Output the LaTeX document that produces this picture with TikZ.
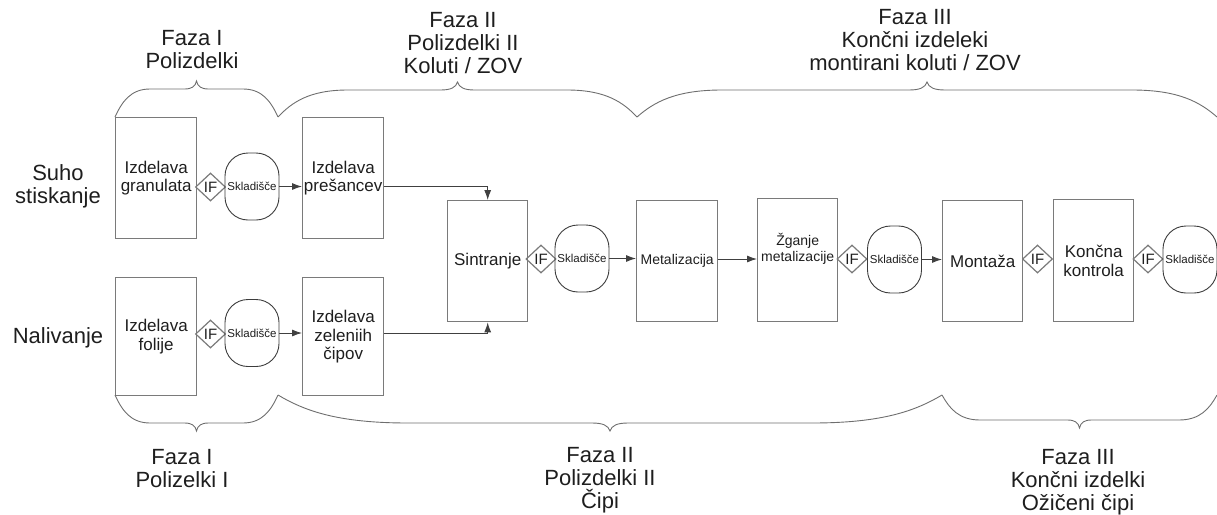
\documentclass[tikz,border=0pt]{standalone}
\usepackage{fontspec}
\setmainfont{Liberation Sans}
\usetikzlibrary{arrows.meta,shapes.geometric}

\definecolor{ink}{HTML}{1E1E1E}
\definecolor{boxline}{HTML}{7A7A7A}
\definecolor{storeline}{HTML}{3C3C3C}
\definecolor{flowline}{HTML}{404040}
\definecolor{braceline}{HTML}{6E6E6E}

\tikzset{
  stepbox/.style={draw=boxline, line width=1.4pt, minimum width=81pt,
    minimum height=121pt, inner sep=0pt, anchor=north west, align=center,
    font=\fontsize{17}{18.5}\selectfont, text=ink},
  smallstep/.style={stepbox, font=\fontsize{14}{15.5}\selectfont},
  ifnode/.style={diamond, draw=boxline, line width=1.2pt, minimum width=30pt,
    minimum height=28pt, inner sep=0pt, font=\fontsize{15}{15}\selectfont, text=ink},
  store/.style={draw=storeline, line width=0.9pt, rounded corners=23pt,
    minimum width=54pt, minimum height=67pt, inner sep=0pt,
    font=\fontsize{11.5}{12}\selectfont, text=ink},
  flow/.style={draw=flowline, line width=0.9pt, -{Latex[length=10pt,width=7pt]}},
  phase/.style={align=center, font=\fontsize{22}{23}\selectfont, text=ink},
  bracestyle/.style={draw=braceline, line width=0.9pt},
}

% curly brace: x left, x right, y of the ends, y of the flat part, y of the tip,
% length of the end curves, half width of the tip
\newcommand\phasebrace[7]{%
  \draw[bracestyle] (#1,#3)
    .. controls ({#1+0.2*#6},{#4+0.45*(#3-#4)}) and ({#1+0.45*#6},#4) .. ({#1+#6},#4)
    -- ({(#1+#2)/2-#7},#4)
    .. controls ({(#1+#2)/2-0.4*#7},#4) and ({(#1+#2)/2-0.1*#7},{#4+0.3*(#5-#4)}) .. ({(#1+#2)/2},#5)
    .. controls ({(#1+#2)/2+0.1*#7},{#4+0.3*(#5-#4)}) and ({(#1+#2)/2+0.4*#7},#4) .. ({(#1+#2)/2+#7},#4)
    -- ({#2-#6},#4)
    .. controls ({#2-0.45*#6},#4) and ({#2-0.2*#6},{#4+0.45*(#3-#4)}) .. (#2,#3);
}

\begin{document}
\begin{tikzpicture}[x=1pt,y=-1pt]
\useasboundingbox (0,0) rectangle (1217,514);

% side labels
\node[phase] (dry) at (58,186) {Suho\\stiskanje};
\node[phase] (cast) at (58,338) {Nalivanje};

% phase I: preparation
\node[stepbox] (gran) at (115,117) {Izdelava\\granulata};
\node[ifnode] (if1) at (210.5,187) {IF};
\node[store] (st1) at (252,186.5) {Skladišče};
\node[stepbox] (pres) at (302,117) {Izdelava\\prešancev};

\node[stepbox, minimum height=118pt] (foli) at (115,277) {Izdelava\\folije};
\node[ifnode] (if2) at (210.5,334) {IF};
\node[store] (st2) at (252,333) {Skladišče};
\node[stepbox, minimum height=118pt] (zele) at (302,277) {Izdelava\\zeleniih\\čipov};

% phase II and III: common line
\node[stepbox, minimum width=80pt] (sint) at (447,200) {Sintranje};
\node[ifnode] (if3) at (541,259) {IF};
\node[store] (st3) at (582,258.5) {Skladišče};
\node[smallstep] (meta) at (636,200) {Metalizacija};
\node[smallstep, minimum width=80pt, minimum height=123pt] (zgan) at (757,198) {Žganje\\metalizacije\\[10pt]};
\node[ifnode] (if4) at (852,259) {IF};
\node[store] (st4) at (894.5,259.5) {Skladišče};
\node[stepbox, minimum width=80pt] (mont) at (942,200) {Montaža};
\node[ifnode] (if5) at (1037.5,259) {IF};
\node[stepbox, minimum width=80pt, minimum height=122pt] (konc) at (1053,199) {Končna\\kontrola};
\node[ifnode] (if6) at (1148,259) {IF};
\node[store] (st5) at (1190,259.5) {Skladišče};

% material flow
\draw[flow] (st1.east) -- (st1.east -| pres.west);
\draw[flow] (st2.east) -- (st2.east -| zele.west);
\draw[flow] (st1.east -| pres.east) -- (st1.east -| sint.north) -- (sint.north);
\draw[flow] (st2.east -| zele.east) -- (st2.east -| sint.south) -- (sint.south);
\draw[flow] (st3.east) -- (st3.east -| meta.west);
\draw[flow] (if3 -| meta.east) -- (if3 -| zgan.west);
\draw[flow] (st4.east) -- (st4.east -| mont.west);

% phase braces above
\phasebrace{115}{278}{117}{89}{81}{35}{12}
\phasebrace{278}{637}{117}{90}{82}{70}{17}
\phasebrace{637}{1217}{117}{90}{82}{85}{18}
% phase braces below
\phasebrace{115}{278}{395}{423}{431}{35}{12}
\phasebrace{278}{942}{395}{423}{431}{130}{18}
\phasebrace{942}{1217}{395}{420}{428}{38}{12}

% phase labels
\node[phase] (t1) at (192,50) {Faza I\\Polizdelki};
\node[phase] (t2) at (463,43) {Faza II\\Polizdelki II\\Koluti / ZOV};
\node[phase] (t3) at (915,40.5) {Faza III\\Končni izdeleki\\montirani koluti / ZOV};
\node[phase] (b1) at (182,469) {Faza I\\Polizelki I};
\node[phase] (b2) at (600,480) {Faza II\\Polizdelki II\\Čipi};
\node[phase] (b3) at (1078,482) {Faza III\\Končni izdelki\\Ožičeni čipi};
\end{tikzpicture}
\end{document}
